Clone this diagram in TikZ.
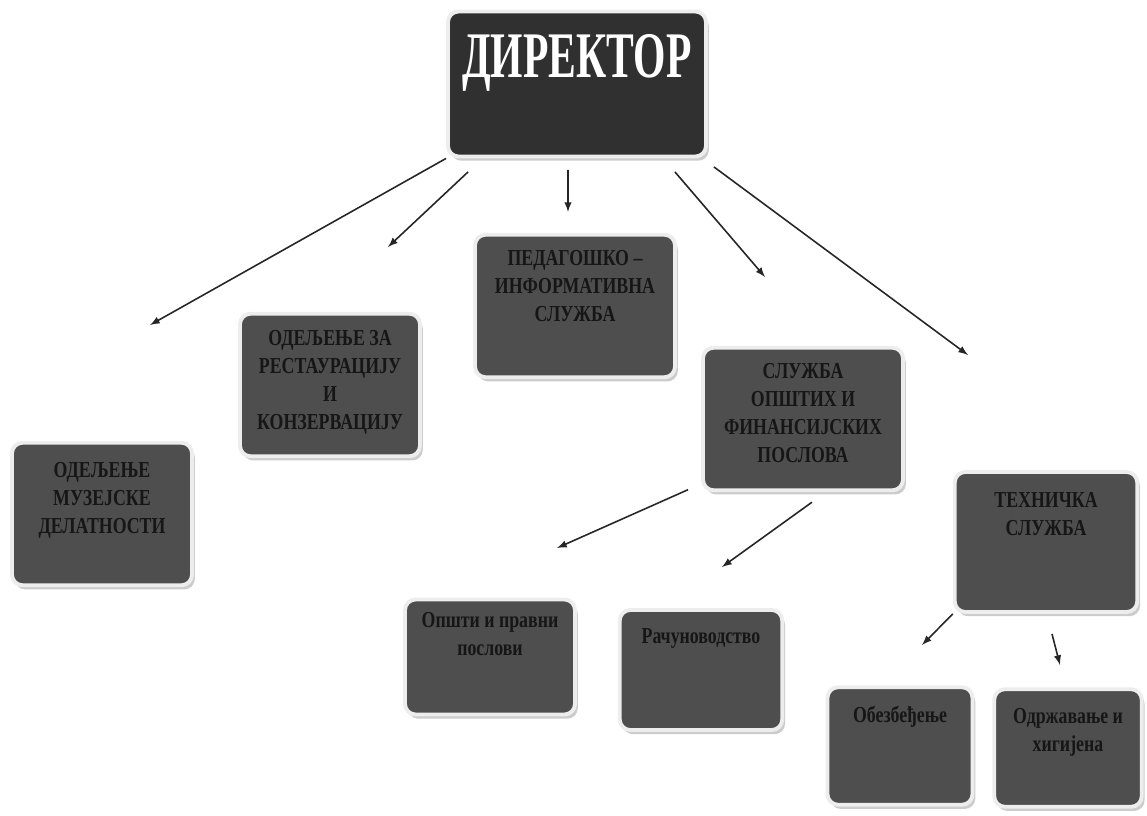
\documentclass[tikz,border=0pt]{standalone}
\usepackage{fontspec}
\setmainfont{Liberation Serif}[FakeStretch=0.78]
\newfontfamily\dirfont{Liberation Serif}[FakeStretch=0.64]
\usepackage{tikz}
\usetikzlibrary{arrows, positioning, calc, shadows}

\definecolor{boxgray}{RGB}{78,78,78}
\definecolor{dirgray}{RGB}{48,48,48}
\definecolor{boxtext}{RGB}{22,22,22}

\begin{document}
\begin{tikzpicture}[
	box/.style = {rectangle, draw=black!7, line width=2.2pt, fill=boxgray, rounded corners=6pt, text centered, align=center, inner sep=2pt, text=boxtext, font=\fontsize{13}{16}\selectfont\bfseries, drop shadow={shadow xshift=1.6pt, shadow yshift=-2.4pt, fill=black!40}, text depth=#1},
	box/.default = 1.8cm,
	line/.style = {draw, -latex, line width=0.9pt, black!85}
	]
	\useasboundingbox (0,0) rectangle (22.94,-16.32);
	
	% Nodes
	\node [box=1.12cm, fill=dirgray, text=white, font=\dirfont\fontsize{37}{40}\selectfont\bfseries, minimum width=5.16cm, minimum height=2.9cm] (dir) at (11.54,-1.68) {ДИРЕКТОР};
	
	\node [box=0.20cm, minimum width=3.6cm, minimum height=2.85cm] (rest) at (6.60,-7.70) {ОДЕЉЕЊЕ ЗА\\РЕСТАУРАЦИЈУ\\И\\КОНЗЕРВАЦИЈУ};
	\node [box=0.80cm, minimum width=4.0cm, minimum height=2.85cm] (ped) at (11.50,-6.12) {ПЕДАГОШКО –\\ИНФОРМАТИВНА\\СЛУЖБА};
	\node [box=0.24cm, minimum width=4.0cm, minimum height=2.85cm] (opst) at (16.06,-8.38) {СЛУЖБА\\ОПШТИХ И\\ФИНАНСИЈСКИХ\\ПОСЛОВА};
	\node [box=0.64cm, minimum width=3.6cm, minimum height=2.85cm] (muz) at (2.04,-10.28) {ОДЕЉЕЊЕ\\МУЗЕЈСКЕ\\ДЕЛАТНОСТИ};
	\node [box=1.13cm, minimum width=3.65cm, minimum height=2.8cm] (teh) at (20.92,-10.84) {ТЕХНИЧКА\\СЛУЖБА};
	
	% Sub-units
	\node [box=0.93cm, minimum width=3.4cm, minimum height=2.3cm] (prav) at (9.80,-13.14) {Општи и правни\\послови};
	\node [box=1.37cm, minimum width=3.25cm, minimum height=2.4cm] (racun) at (14.02,-13.40) {Рачуноводство};
	\node [box=1.25cm, minimum width=2.9cm, minimum height=2.35cm] (obez) at (18.00,-14.92) {Обезбеђење};
	\node [box=0.73cm, minimum width=2.95cm, minimum height=2.35cm] (odrz) at (21.36,-14.96) {Одржавање и\\хигијена};
	
	% Arrow tips
	\coordinate (tmuz) at (3.00,-6.50);
	\coordinate (trest) at (7.76,-4.94);
	\coordinate (tped) at (11.36,-4.24);
	\coordinate (topst) at (15.30,-5.54);
	\coordinate (tteh) at (19.36,-7.10);
	\coordinate (tprav) at (11.14,-10.96);
	\coordinate (tracun) at (14.44,-11.34);
	\coordinate (tobez) at (18.44,-12.90);
	\coordinate (todrz) at (21.20,-13.30);
	
	% Lines
	\path [line] (dir.south west) -- (tmuz);
	\path [line] ([shift={(0.44,-0.27)}]dir.south west) -- (trest);
	\path [line] ([shift={(-0.18,-0.23)}]dir.south) -- (tped);
	\path [line] ([shift={(-0.66,-0.27)}]dir.south east) -- (topst);
	\path [line] ([shift={(0.12,-0.17)}]dir.south east) -- (tteh);
	
	\path [line] ([shift={(-0.26,0.05)}]opst.south west) -- (tprav);
	\path [line] ([shift={(0.18,-0.20)}]opst.south) -- (tracun);
	
	\path [line] (teh.south west) -- (tobez);
	\path [line] ([shift={(0.12,-0.40)}]teh.south) -- (todrz);
\end{tikzpicture}
\end{document}
